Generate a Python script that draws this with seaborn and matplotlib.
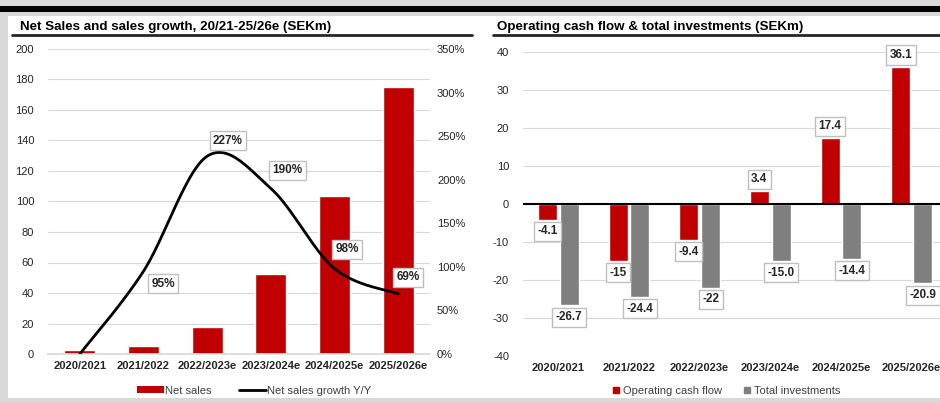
import numpy as np
import pandas as pd
import seaborn as sns
import matplotlib.pyplot as plt
from matplotlib.patches import Rectangle, Patch
from matplotlib.lines import Line2D
from matplotlib.ticker import FuncFormatter

# ---------------------------------------------------------------- data
years = ["2020/2021", "2021/2022", "2022/2023e", "2023/2024e", "2024/2025e", "2025/2026e"]
net_sales = [2.5, 5.0, 17.5, 52.5, 103.5, 175.0]
growth = [0.0, 0.95, 2.27, 1.90, 0.98, 0.69]
growth_labels = ["", "95%", "227%", "190%", "98%", "69%"]

ocf = [-4.1, -15.0, -9.4, 3.4, 17.4, 36.1]
ocf_labels = ["-4.1", "-15", "-9.4", "3.4", "17.4", "36.1"]
invest = [-26.7, -24.4, -22.0, -15.0, -14.4, -20.9]
invest_labels = ["-26.7", "-24.4", "-22", "-15.0", "-14.4", "-20.9"]

RED = "#c00000"
GREY = "#7f7f7f"
TXT = "#262626"

sns.set_theme(style="white")
plt.rcParams["font.family"] = ["Liberation Sans", "DejaVu Sans"]
plt.rcParams["axes.unicode_minus"] = False


def smooth(xs, ys, n=30):
    # excel-like smoothed line (catmull-rom through the points)
    xs = np.asarray(xs, float)
    ys = np.asarray(ys, float)
    px = np.concatenate([[xs[0]], xs, [xs[-1]]])
    py = np.concatenate([[ys[0]], ys, [ys[-1]]])
    ox, oy = [], []
    for i in range(1, len(px) - 2):
        t = np.linspace(0, 1, n)
        for p, out in ((px, ox), (py, oy)):
            p0, p1, p2, p3 = p[i - 1], p[i], p[i + 1], p[i + 2]
            out.extend(0.5 * ((2 * p1) + (-p0 + p2) * t
                              + (2 * p0 - 5 * p1 + 4 * p2 - p3) * t ** 2
                              + (-p0 + 3 * p1 - 3 * p2 + p3) * t ** 3))
    return np.array(ox), np.array(oy)


def boxed(ax, x, y, s, dx, dy):
    ax.annotate(s, (x, y), xytext=(dx, dy), textcoords="offset points",
                ha="center", va="center", fontsize=8.5, fontweight="bold", color=TXT,
                bbox=dict(boxstyle="square,pad=0.3", fc="white", ec="#bfbfbf", lw=1.0))


fig = plt.figure(figsize=(9.4, 4.03), dpi=100)
fig.patch.set_facecolor("#d9d9d9")
W, H = 940, 403


def fx(px):
    return px / W


def fy(py):
    return 1 - py / H


# frame: white panel + black bar on top
fig.add_artist(Rectangle((fx(8), fy(398)), fx(932), 382 / H, transform=fig.transFigure,
                         fc="white", ec="none", zorder=0))
fig.add_artist(Rectangle((0, fy(12)), 1, 6 / H, transform=fig.transFigure,
                         fc="black", ec="none", zorder=0))

# titles
fig.text(fx(20), fy(30), "Net Sales and sales growth, 20/21-25/26e (SEKm)",
         fontsize=9.6, fontweight="bold", color="black", va="baseline")
fig.text(fx(497), fy(30), "Operating cash flow & total investments (SEKm)",
         fontsize=9.6, fontweight="bold", color="black", va="baseline")
fig.add_artist(Line2D([fx(12), fx(472)], [fy(35), fy(35)], transform=fig.transFigure,
                      color="#262626", lw=2))
fig.add_artist(Line2D([fx(493), 1], [fy(35), fy(35)], transform=fig.transFigure,
                      color="#262626", lw=2))

# ---------------------------------------------------------------- left chart
ax1 = fig.add_axes([fx(48), fy(354), 382 / W, 305 / H])
df1 = pd.DataFrame({"year": years, "sales": net_sales})
sns.barplot(data=df1, x="year", y="sales", color=RED, width=0.49, saturation=1, ax=ax1)
ax1.set_ylim(0, 200)
ax1.set_yticks(range(0, 201, 20))
ax1.set_xlim(-0.5, 5.5)
ax1.grid(axis="y", color="#d9d9d9", lw=0.8)
ax1.set_axisbelow(True)
for s in ["top", "right", "left"]:
    ax1.spines[s].set_visible(False)
ax1.spines["bottom"].set_color("#d9d9d9")
ax1.set_xlabel("")
ax1.set_ylabel("")
ax1.tick_params(axis="y", length=0, pad=10, labelsize=8, labelcolor=TXT)
ax1.tick_params(axis="x", length=0, pad=5, labelsize=8, labelcolor=TXT)
for t in ax1.get_xticklabels():
    t.set_fontweight("bold")

ax1b = ax1.twinx()
ax1b.set_ylim(0, 3.5)
ax1b.set_yticks(np.arange(0, 3.51, 0.5))
ax1b.yaxis.set_major_formatter(FuncFormatter(lambda v, p: f"{v * 100:.0f}%"))
ax1b.tick_params(axis="y", length=0, pad=5, labelsize=8, labelcolor=TXT)
for s in ax1b.spines.values():
    s.set_visible(False)
sx, sy = smooth(range(len(years)), growth)
sns.lineplot(x=sx, y=sy, color="black", lw=2, ax=ax1b, sort=False)
offs = [(0, 0), (14, -9), (15, 11), (12, 13), (9, 14), (7, 12)]
for i, (g, lab) in enumerate(zip(growth, growth_labels)):
    if lab:
        boxed(ax1b, i, g, lab, *offs[i])
ax1b.set_zorder(ax1.get_zorder() + 1)

h1 = [Patch(fc=RED, ec="none"), Line2D([], [], color="black", lw=2)]
ax1.legend(h1, ["Net sales", "Net sales growth Y/Y"], loc="center", bbox_to_anchor=(0.54, -0.12),
           ncol=2, frameon=False, fontsize=8, labelcolor="#404040", handlelength=2.4,
           handleheight=0.5, handletextpad=0.1, columnspacing=2.5)

# ---------------------------------------------------------------- right chart
ax2 = fig.add_axes([fx(523), fy(356), 424 / W, 304 / H])
df2 = pd.DataFrame({"year": years * 2, "value": ocf + invest,
                    "kind": ["Operating cash flow"] * 6 + ["Total investments"] * 6})
sns.barplot(data=df2, x="year", y="value", hue="kind", palette=[RED, GREY], saturation=1,
            width=0.62, gap=0.13, ax=ax2, legend=False)
ax2.set_ylim(-40, 40)
ax2.set_yticks(range(-40, 41, 10))
ax2.set_xlim(-0.5, 5.5)
ax2.grid(axis="y", color="#d9d9d9", lw=0.8)
ax2.set_axisbelow(True)
ax2.axhline(0, color="black", lw=1.5, zorder=3)
for s in ax2.spines.values():
    s.set_visible(False)
ax2.set_xlabel("")
ax2.set_ylabel("")
ax2.tick_params(axis="y", length=0, pad=10, labelsize=8, labelcolor=TXT)
ax2.tick_params(axis="x", length=0, pad=5, labelsize=8, labelcolor=TXT)
for t in ax2.get_xticklabels():
    t.set_fontweight("bold")

for i in range(len(years)):
    boxed(ax2, i - 0.155, ocf[i], ocf_labels[i], 0, 8.5 if ocf[i] > 0 else -8.5)
    boxed(ax2, i + 0.155, invest[i], invest_labels[i], 0, -8.5)

h2 = [Line2D([], [], marker="s", ls="none", color=RED, markersize=5),
      Line2D([], [], marker="s", ls="none", color=GREY, markersize=5)]
ax2.legend(h2, ["Operating cash flow", "Total investments"], loc="center",
           bbox_to_anchor=(0.48, -0.115), ncol=2, frameon=False, fontsize=8,
           labelcolor="#404040", handlelength=0.6, handletextpad=0.3, columnspacing=2.0)

fig.savefig("out.png", dpi=100, facecolor=fig.get_facecolor())
